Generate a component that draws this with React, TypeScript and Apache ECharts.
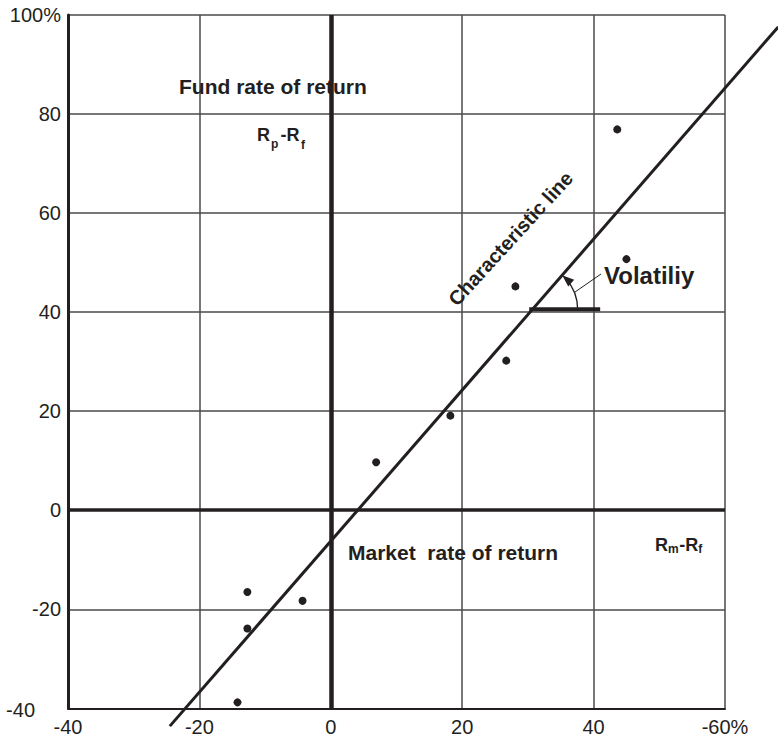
import React, { useEffect, useRef } from 'react';
import * as echarts from 'echarts';

// Tick labels as printed on the reference
const xTickLabels = ['-40', '-20', '0', '20', '40', '-60%'];
const yTickLabels = ['-40', '-20', '0', '20', '40', '60', '80', '100%'];

// Observations: market excess return (Rm-Rf) vs fund excess return (Rp-Rf)
const marketExcess = [43.6, 45.0, 28.1, 26.7, 18.2, 6.9, -12.7, -4.3, -12.7, -14.2];
const fundExcess = [76.9, 50.7, 45.2, 30.2, 19.1, 9.7, -16.5, -18.3, -23.9, -38.8];

// Characteristic line end points
const characteristicX = [-24.5, 68.1];
const characteristicY = [-43.6, 97.6];

// Horizontal reference bar for the volatility angle
const volatilityBarX = [30.2, 41.0];
const volatilityBarY = 40.6;

const FONT = "'Liberation Sans', Arial, Helvetica, sans-serif";
const INK = '#231f20';

function txt(text: string, x: number, y: number, size: number, bold: boolean, extra: any = {}) {
  return {
    type: 'text',
    x,
    y,
    silent: true,
    z: 20,
    ...extra,
    style: {
      text,
      fill: INK,
      fontSize: size,
      fontWeight: bold ? 'bold' : 'normal',
      fontFamily: FONT,
      align: extra.align || 'left',
      textAlign: extra.align || 'left',
      verticalAlign: 'middle',
      textVerticalAlign: 'middle',
    },
  };
}

export default function App() {
  const ref = useRef<HTMLDivElement>(null);

  useEffect(() => {
    const el = ref.current as HTMLDivElement;
    const chart = echarts.init(el, null, { renderer: 'svg' });

    const option: any = {
      animation: false,
      backgroundColor: '#ffffff',
      grid: { left: 68, right: 53, top: 15, bottom: 28.7, containLabel: false, outerBoundsMode: 'none' },
      xAxis: {
        type: 'value',
        min: -40,
        max: 60,
        interval: 20,
        axisLine: { show: true, onZero: false, lineStyle: { color: INK, width: 2 } },
        axisTick: { show: false },
        splitLine: { show: true, lineStyle: { color: '#4a4a4a', width: 1.5 } },
        axisLabel: {
          color: INK,
          fontSize: 20,
          fontFamily: FONT,
          margin: 9,
          formatter: (v: number) => xTickLabels[Math.round((v + 40) / 20)],
        },
      },
      yAxis: {
        type: 'value',
        min: -40,
        max: 100,
        interval: 20,
        axisLine: { show: true, onZero: false, lineStyle: { color: INK, width: 3 } },
        axisTick: { show: false },
        splitLine: { show: true, lineStyle: { color: '#4a4a4a', width: 1.5 } },
        axisLabel: {
          color: INK,
          fontSize: 20,
          fontFamily: FONT,
          margin: 7,
          formatter: (v: number) => {
            const s = yTickLabels[Math.round((v + 40) / 20)];
            return v === -40 ? '{low|' + s + '}' : s;
          },
          rich: {
            low: { color: INK, fontSize: 20, fontFamily: FONT, padding: [4, 26, 0, 0] },
          },
        },
      },
      series: [
        {
          type: 'scatter',
          data: marketExcess.map((x, i) => [x, fundExcess[i]]),
          symbol: 'circle',
          symbolSize: 8,
          itemStyle: { color: INK, opacity: 1 },
          z: 6,
          silent: true,
          markLine: {
            silent: true,
            symbol: ['none', 'none'],
            label: { show: false },
            emphasis: { disabled: true },
            lineStyle: { color: INK, type: 'solid' },
            data: [
              { xAxis: 0, lineStyle: { color: INK, width: 4.5, type: 'solid' } },
              { yAxis: 0, lineStyle: { color: INK, width: 3.5, type: 'solid' } },
            ],
          },
        },
        {
          type: 'custom',
          coordinateSystem: 'cartesian2d',
          data: [[characteristicX[0], characteristicY[0], characteristicX[1], characteristicY[1]]],
          encode: { x: [0, 2], y: [1, 3] },
          clip: false,
          silent: true,
          z: 5,
          renderItem: (_params: any, api: any) => {
            const a = api.coord([api.value(0), api.value(1)]);
            const b = api.coord([api.value(2), api.value(3)]);
            return {
              type: 'line',
              shape: { x1: a[0], y1: a[1], x2: b[0], y2: b[1] },
              style: { stroke: INK, lineWidth: 3 },
            };
          },
        },
        {
          type: 'line',
          data: volatilityBarX.map((x) => [x, volatilityBarY]),
          showSymbol: false,
          symbol: 'none',
          clip: false,
          silent: true,
          lineStyle: { color: INK, width: 4 },
          z: 5,
        },
      ],
    };

    chart.setOption(option);

    // Angle annotation computed from the characteristic line and the bar
    const p1 = chart.convertToPixel({ gridIndex: 0 }, [characteristicX[0], characteristicY[0]]) as number[];
    const p2 = chart.convertToPixel({ gridIndex: 0 }, [characteristicX[1], characteristicY[1]]) as number[];
    const t = (volatilityBarY - characteristicY[0]) / (characteristicY[1] - characteristicY[0]);
    const ix = characteristicX[0] + t * (characteristicX[1] - characteristicX[0]);
    const c = chart.convertToPixel({ gridIndex: 0 }, [ix, volatilityBarY]) as number[];
    const a = Math.atan2(p2[1] - p1[1], p2[0] - p1[0]);
    const r = 45;
    const tip = [c[0] + r * Math.cos(a), c[1] + r * Math.sin(a)];
    const d = [Math.sin(a), -Math.cos(a)];
    const n = [-d[1], d[0]];
    const base = [tip[0] - 12 * d[0], tip[1] - 12 * d[1]];
    const a2 = -0.38;
    const lp = [c[0] + r * Math.cos(a2), c[1] + r * Math.sin(a2)];

    chart.setOption({
      graphic: [
        {
          type: 'arc',
          silent: true,
          z: 20,
          shape: { cx: c[0], cy: c[1], r, startAngle: a + 0.12, endAngle: 0, clockwise: true },
          style: { stroke: INK, lineWidth: 1.3, fill: 'none' },
        },
        {
          type: 'polygon',
          silent: true,
          z: 20,
          shape: {
            points: [
              tip,
              [base[0] + 4.5 * n[0], base[1] + 4.5 * n[1]],
              [base[0] - 4.5 * n[0], base[1] - 4.5 * n[1]],
            ],
          },
          style: { fill: INK },
        },
        {
          type: 'line',
          silent: true,
          z: 20,
          shape: { x1: lp[0], y1: lp[1], x2: 601, y2: 274 },
          style: { stroke: INK, lineWidth: 1 },
        },
        txt('Volatiliy', 604, 275, 24, true),
        txt('Fund rate of return', 179, 86, 21, true),
        txt('Market  rate of return', 348, 552, 21, true),
        txt('Characteristic line', 510.5, 238.5, 20, true, { rotation: 0.83, align: 'center' }),
        // R_p - R_f
        txt('R', 257, 134.8, 18, true),
        txt('p', 271, 144.1, 12, true),
        txt('-R', 280.5, 134.8, 18, true),
        txt('f', 301, 144.8, 12, true),
        // R_m - R_f
        txt('R', 655, 544.8, 18, true),
        txt('m', 668, 549.1, 12, true),
        txt('-R', 679.3, 544.8, 18, true),
        txt('f', 698.3, 548.8, 12, true),
      ],
    });

    return () => {
      chart.dispose();
    };
  }, []);

  return (
    <div
      ref={ref}
      style={{ position: 'absolute', left: 0, top: 0, width: 778, height: 737, background: '#ffffff' }}
    />
  );
}
